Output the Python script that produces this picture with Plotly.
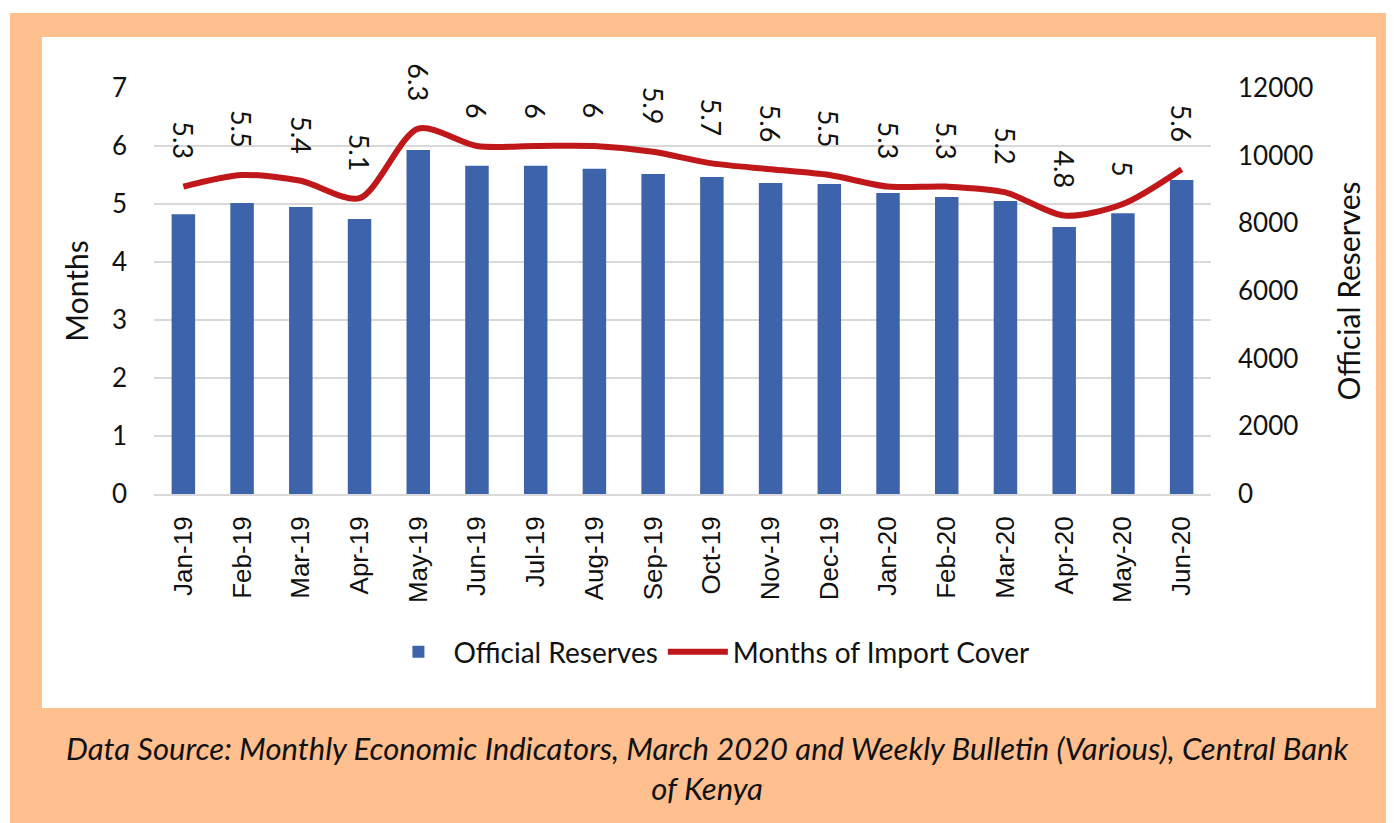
import plotly.graph_objects as go

months = ["Jan-19", "Feb-19", "Mar-19", "Apr-19", "May-19", "Jun-19", "Jul-19", "Aug-19",
          "Sep-19", "Oct-19", "Nov-19", "Dec-19", "Jan-20", "Feb-20", "Mar-20", "Apr-20",
          "May-20", "Jun-20"]
official_reserves = [8270, 8600, 8480, 8130, 10170, 9700, 9700, 9610, 9460, 9370, 9190, 9160,
                     8900, 8780, 8660, 7890, 8300, 9280]
import_cover = [5.3, 5.5, 5.4, 5.1, 6.3, 6, 6, 6, 5.9, 5.7, 5.6, 5.5, 5.3, 5.3, 5.2, 4.8, 5, 5.6]
left_ticks = [0, 1, 2, 3, 4, 5, 6, 7]
right_ticks = [0, 2000, 4000, 6000, 8000, 10000, 12000]
caption = ("Data Source: Monthly Economic Indicators, March 2020 and Weekly Bulletin (Various), Central Bank"
           "<br>of Kenya")

ORANGE = "rgb(255,191,143)"
BLUE = "#3D64AA"
RED = "#C0171A"
FONT = "Lato"

fig = go.Figure()
fig.add_trace(go.Bar(x=months, y=official_reserves, name="Official Reserves",
                     marker=dict(color=BLUE, line=dict(width=0)), yaxis="y2"))
fig.add_trace(go.Scatter(x=months, y=import_cover, name="Months of Import Cover",
                         mode="lines", line=dict(color=RED, width=6, shape="spline", smoothing=0.8),
                         yaxis="y"))

for m, v in zip(months, import_cover):
    fig.add_annotation(x=m, y=v, xref="x", yref="y", text=str(v), showarrow=False,
                       textangle=90, yanchor="bottom", xanchor="center", yshift=25,
                       font=dict(family=FONT, size=27, color="#111111"))

fig.add_annotation(x=0.523, y=-0.674, xref="paper", yref="paper", text=caption,
                   showarrow=False, xanchor="center", yanchor="middle", align="center",
                   font=dict(family="Lato", size=31, color="#111111", style="italic"))

shapes = [
    dict(type="rect", xref="paper", yref="paper", x0=-0.1362, x1=1.1722, y0=-0.8103, y1=1.1847,
         fillcolor=ORANGE, line=dict(width=0), layer="below"),
    dict(type="rect", xref="paper", yref="paper", x0=-0.1060, x1=1.1561, y0=-0.5271, y1=1.1256,
         fillcolor="white", line=dict(width=0), layer="below"),
]

fig.update_layout(
    width=1386, height=815,
    margin=dict(l=146, r=183, t=80, b=329),
    paper_bgcolor="white", plot_bgcolor="rgba(0,0,0,0)",
    shapes=shapes,
    bargap=0.6,
    showlegend=True,
    legend=dict(orientation="h", x=0.525, y=-0.389, xanchor="center", yanchor="middle",
                font=dict(family=FONT, size=28, color="#111111"), bgcolor="rgba(0,0,0,0)",
                itemwidth=60, traceorder="normal"),
    xaxis=dict(type="category", tickangle=-90, tickfont=dict(family="Liberation Sans", size=26, color="#111111"),
               showgrid=False, showline=True, linecolor="#D9D9D9", linewidth=2,
               ticks="", ticklabelstandoff=10),
    yaxis=dict(range=[0, 7], tickvals=left_ticks, showgrid=True, gridcolor="#D9D9D9", gridwidth=2,
               zeroline=False, tickfont=dict(family=FONT, size=26, color="#111111"),
               ticks="", ticklabelstandoff=26,
               title=dict(text="Months", font=dict(family=FONT, size=30, color="#111111"), standoff=14)),
    yaxis2=dict(range=[0, 12000], tickvals=right_ticks, tickformat="d", overlaying="y", side="right",
                showgrid=False, zeroline=False, tickfont=dict(family=FONT, size=26, color="#111111"),
                ticks="", ticklabelstandoff=26,
                title=dict(text="Official Reserves", font=dict(family=FONT, size=30, color="#111111"),
                           standoff=26)),
)

fig.write_html("out.html")
